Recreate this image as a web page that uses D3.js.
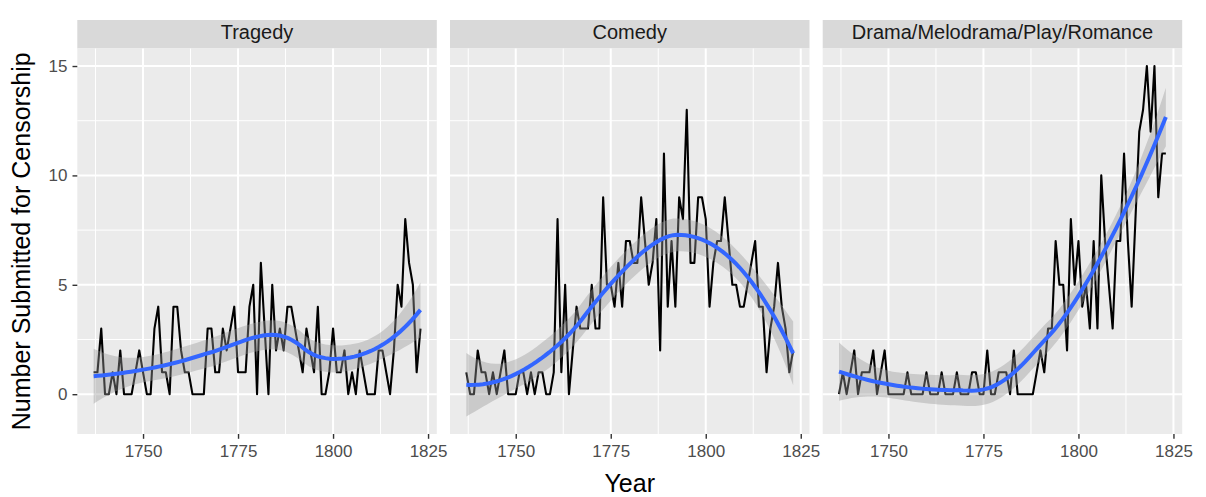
<!DOCTYPE html>
<html>
<head>
<meta charset="utf-8">
<script src="https://cdn.jsdelivr.net/npm/d3@7"></script>
<style>
  body { margin: 0; background: #fff; }
  svg text { font-family: "Liberation Sans", Arial, Helvetica, sans-serif; }
</style>
</head>
<body>
<svg id="chart" width="1206" height="497"></svg>
<script>
// --- data (one value per year) ---
const years = [1737,1738,1739,1740,1741,1742,1743,1744,1745,1746,1747,1748,1749,1750,
  1751,1752,1753,1754,1755,1756,1757,1758,1759,1760,1761,1762,1763,1764,1765,1766,
  1767,1768,1769,1770,1771,1772,1773,1774,1775,1776,1777,1778,1779,1780,1781,1782,
  1783,1784,1785,1786,1787,1788,1789,1790,1791,1792,1793,1794,1795,1796,1797,1798,
  1799,1800,1801,1802,1803,1804,1805,1806,1807,1808,1809,1810,1811,1812,1813,1814,
  1815,1816,1817,1818,1819,1820,1821,1822,1823];

const tragedy = [1,1,3,0,0,1,0,2,0,0,0,1,2,1,
  0,0,3,4,1,1,0,4,4,2,1,1,0,0,0,0,
  3,3,1,1,3,2,3,4,1,1,1,4,5,0,6,3,
  0,5,2,3,2,4,4,3,2,1,3,2,1,4,0,0,
  1,3,1,1,2,0,1,0,2,1,0,0,0,2,2,1,
  0,2,5,4,8,6,5,1,3];

const comedy = [1,0,0,2,1,1,0,1,0,1,2,0,0,0,
  1,1,0,1,0,1,1,0,0,1,8,1,5,0,2,4,
  3,3,3,5,3,3,9,5,5,4,6,4,7,7,6,6,
  9,7,5,6,8,2,11,4,7,4,9,8,13,6,6,9,
  9,8,4,6,7,7,9,7,5,5,4,4,5,6,7,4,
  4,1,3,4,6,4,3,1,2];

const drama = [0,1,0,1,2,0,1,1,1,2,0,1,2,0,
  0,0,0,0,1,0,0,0,0,1,0,0,0,1,0,0,
  0,1,0,0,0,1,1,0,0,2,0,0,1,1,1,0,
  2,0,0,0,0,0,1,2,1,3,3,7,5,5,2,8,
  5,7,4,5,3,7,3,10,7,5,3,7,7,11,7,4,
  8,12,13,15,12,15,9,11,11];

const facetLabels = ['Tragedy', 'Comedy', 'Drama/Melodrama/Play/Romance'];
const facetValues = [tragedy, comedy, drama];

const xBreaks = [1750, 1775, 1800, 1825];
const xMinorBreaks = [1737.5, 1762.5, 1787.5, 1812.5];
const yBreaks = [0, 5, 10, 15];
const yMinorBreaks = [2.5, 7.5, 12.5];

// --- layout ---
const W = 1206, H = 497;
const panelX0 = 77.3, panelW = 359.5, panelStep = 372.7;
const panelTop = 48.5, panelBottom = 434, stripTop = 20;
const tickLen = 4.8;

// --- loess (span 0.75, degree 2, tricube), like geom_smooth() ---
function solve3(A, b) {
  const M = A.map((r, i) => r.concat([b[i]]));
  for (let c = 0; c < 3; c++) {
    let p = c;
    for (let r = c + 1; r < 3; r++) if (Math.abs(M[r][c]) > Math.abs(M[p][c])) p = r;
    [M[c], M[p]] = [M[p], M[c]];
    for (let r = 0; r < 3; r++) {
      if (r === c) continue;
      const f = M[r][c] / M[c][c];
      for (let k = c; k < 4; k++) M[r][k] -= f * M[c][k];
    }
  }
  return [M[0][3] / M[0][0], M[1][3] / M[1][1], M[2][3] / M[2][2]];
}

function loessRow(xs, x0, q) {
  const d = xs.map(x => Math.abs(x - x0));
  const h = d.slice().sort((a, b) => a - b)[q - 1];
  const w = d.map(v => { const u = v / h; return u < 1 ? Math.pow(1 - u * u * u, 3) : 0; });
  const S = [[0, 0, 0], [0, 0, 0], [0, 0, 0]];
  xs.forEach((x, i) => {
    const t = (x - x0) / h, v = [1, t, t * t];
    for (let a = 0; a < 3; a++) for (let b = 0; b < 3; b++) S[a][b] += w[i] * v[a] * v[b];
  });
  const c = solve3(S, [1, 0, 0]);
  return xs.map((x, i) => { const t = (x - x0) / h; return w[i] * (c[0] + c[1] * t + c[2] * t * t); });
}

function tQuantile975(df) {
  const z = 1.959964;
  return z + (z ** 3 + z) / (4 * df) + (5 * z ** 5 + 16 * z ** 3 + 3 * z) / (96 * df * df);
}

function smooth(xs, ys, span, nOut) {
  const n = xs.length, q = Math.floor(n * span);
  const L = xs.map(x => loessRow(xs, x, q));
  const fitted = L.map(r => d3.sum(r, (l, j) => l * ys[j]));
  const rss = d3.sum(ys, (y, i) => (y - fitted[i]) ** 2);
  // A = (I-L)'(I-L)
  const Mm = L.map((r, i) => r.map((l, j) => (i === j ? 1 : 0) - l));
  const A = [];
  for (let i = 0; i < n; i++) {
    A.push([]);
    for (let j = 0; j < n; j++) {
      let s = 0;
      for (let k = 0; k < n; k++) s += Mm[k][i] * Mm[k][j];
      A[i].push(s);
    }
  }
  const delta1 = d3.sum(A, (r, i) => r[i]);
  const delta2 = d3.sum(A, r => d3.sum(r, v => v * v));
  const sigma = Math.sqrt(rss / delta1);
  const tq = tQuantile975(delta1 * delta1 / delta2);
  const [lo, hi] = d3.extent(xs);
  const out = [];
  for (let k = 0; k < nOut; k++) {
    const x0 = lo + (hi - lo) * k / (nOut - 1);
    const r = loessRow(xs, x0, q);
    const fit = d3.sum(r, (l, j) => l * ys[j]);
    const se = sigma * Math.sqrt(d3.sum(r, l => l * l));
    out.push({ x: x0, y: fit, ymin: fit - tq * se, ymax: fit + tq * se });
  }
  return out;
}

const smooths = facetValues.map(v => smooth(years, v, 0.75, 80));

// --- scales (fixed, shared across facets, 5% expansion) ---
const xExt = d3.extent(years);
const xPad = (xExt[1] - xExt[0]) * 0.05;
const yLo = Math.min(0, d3.min(facetValues, v => d3.min(v)), d3.min(smooths, s => d3.min(s, d => d.ymin)));
const yHi = Math.max(d3.max(facetValues, v => d3.max(v)), d3.max(smooths, s => d3.max(s, d => d.ymax)));
const yPad = (yHi - yLo) * 0.05;
const y = d3.scaleLinear().domain([yLo - yPad, yHi + yPad]).range([panelBottom, panelTop]);

const svg = d3.select('#chart');
svg.append('rect').attr('width', W).attr('height', H).attr('fill', '#fff');

facetLabels.forEach((label, i) => {
  const left = panelX0 + i * panelStep;
  const x = d3.scaleLinear().domain([xExt[0] - xPad, xExt[1] + xPad]).range([left, left + panelW]);
  const g = svg.append('g');

  // strip
  g.append('rect').attr('x', left).attr('y', stripTop)
    .attr('width', panelW).attr('height', panelTop - stripTop).attr('fill', '#D9D9D9');
  g.append('text').attr('x', left + panelW / 2).attr('y', 31.5)
    .attr('text-anchor', 'middle').attr('dominant-baseline', 'central')
    .attr('font-size', 20).attr('fill', '#1A1A1A').text(label);

  // panel background + grid
  g.append('rect').attr('x', left).attr('y', panelTop)
    .attr('width', panelW).attr('height', panelBottom - panelTop).attr('fill', '#EBEBEB');
  g.selectAll('.ymin').data(yMinorBreaks).enter().append('line')
    .attr('x1', left).attr('x2', left + panelW).attr('y1', d => y(d)).attr('y2', d => y(d))
    .attr('stroke', '#fff').attr('stroke-width', 1);
  g.selectAll('.xmin').data(xMinorBreaks).enter().append('line')
    .attr('x1', d => x(d)).attr('x2', d => x(d)).attr('y1', panelTop).attr('y2', panelBottom)
    .attr('stroke', '#fff').attr('stroke-width', 1);
  g.selectAll('.ymaj').data(yBreaks).enter().append('line')
    .attr('x1', left).attr('x2', left + panelW).attr('y1', d => y(d)).attr('y2', d => y(d))
    .attr('stroke', '#fff').attr('stroke-width', 2);
  g.selectAll('.xmaj').data(xBreaks).enter().append('line')
    .attr('x1', d => x(d)).attr('x2', d => x(d)).attr('y1', panelTop).attr('y2', panelBottom)
    .attr('stroke', '#fff').attr('stroke-width', 2);

  // data line
  const pts = years.map((yr, j) => [yr, facetValues[i][j]]);
  g.append('path').datum(pts)
    .attr('d', d3.line().x(d => x(d[0])).y(d => y(d[1])))
    .attr('fill', 'none').attr('stroke', '#000').attr('stroke-width', 2.1)
    .attr('stroke-linejoin', 'round');

  // smooth ribbon + line
  const s = smooths[i];
  g.append('path').datum(s)
    .attr('d', d3.area().x(d => x(d.x)).y0(d => y(d.ymin)).y1(d => y(d.ymax)))
    .attr('fill', '#999999').attr('fill-opacity', 0.4);
  g.append('path').datum(s)
    .attr('d', d3.line().x(d => x(d.x)).y(d => y(d.y)))
    .attr('fill', 'none').attr('stroke', '#3366FF').attr('stroke-width', 4);

  // x axis
  const ax = g.append('g').attr('transform', `translate(0,${panelBottom})`)
    .call(d3.axisBottom(x).tickValues(xBreaks).tickSize(tickLen).tickPadding(6).tickFormat(d3.format('d')));
  ax.select('.domain').remove();
  ax.selectAll('line').attr('stroke', '#333').attr('stroke-width', 1.4);
  ax.selectAll('text').attr('fill', '#4D4D4D').attr('font-size', 17)
    .attr('font-family', '"Liberation Sans", Arial, sans-serif');

  if (i === 0) {
    const ay = g.append('g').attr('transform', `translate(${left},0)`)
      .call(d3.axisLeft(y).tickValues(yBreaks).tickSize(tickLen).tickPadding(5).tickFormat(d3.format('d')));
    ay.select('.domain').remove();
    ay.selectAll('line').attr('stroke', '#333').attr('stroke-width', 1.4);
    ay.selectAll('text').attr('fill', '#4D4D4D').attr('font-size', 17)
      .attr('font-family', '"Liberation Sans", Arial, sans-serif');
  }
});

// axis titles
const lastRight = panelX0 + 2 * panelStep + panelW;
svg.append('text').attr('x', (panelX0 + lastRight) / 2).attr('y', 492)
  .attr('text-anchor', 'middle').attr('font-size', 25).attr('fill', '#000').text('Year');
svg.append('text')
  .attr('transform', `translate(30,${(panelTop + panelBottom) / 2}) rotate(-90)`)
  .attr('text-anchor', 'middle').attr('font-size', 25).attr('fill', '#000')
  .text('Number Submitted for Censorship');
</script>
</body>
</html>
